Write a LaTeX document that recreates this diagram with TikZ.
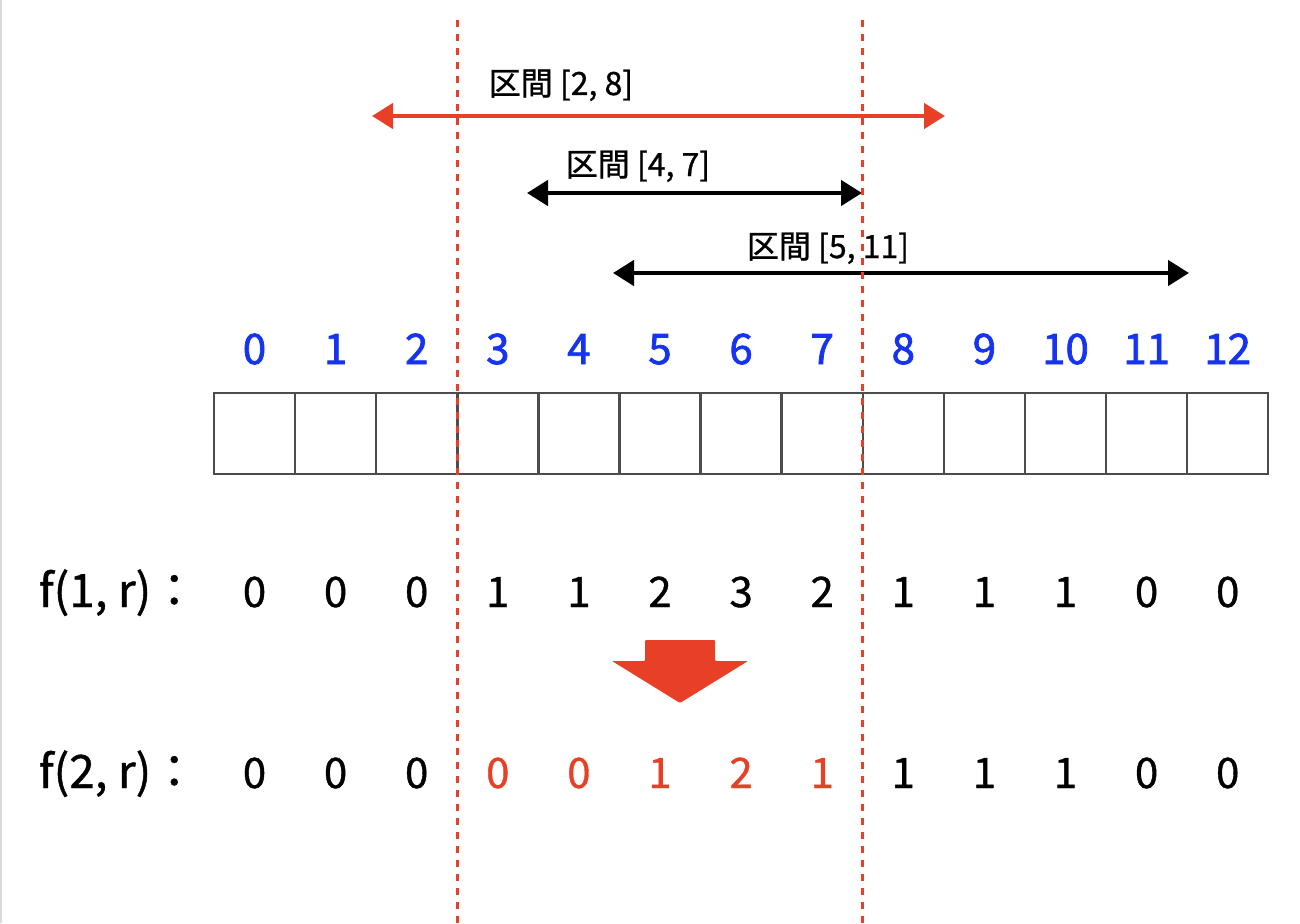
\documentclass[tikz,border=0pt]{standalone}
\usepackage{fontspec}
\setmainfont{Noto Sans CJK JP}[FakeBold=0.9]
\newfontfamily\idxfont{Noto Sans CJK JP}[FakeBold=1.8]
\usetikzlibrary{arrows.meta}
\definecolor{cutred}{RGB}{232,64,38}
\definecolor{idxblue}{RGB}{22,52,240}

\begin{document}
\begin{tikzpicture}[x=1pt,y=-1pt,
  cell/.style={draw=black!70,line width=2.4pt,minimum size=81pt,inner sep=0pt},
  idx/.style={text=idxblue,anchor=base,font=\idxfont\fontsize{42}{46}\selectfont},
  val/.style={anchor=base,font=\fontsize{42}{46}\selectfont},
  rowtag/.style={anchor=base,font=\fontsize{46}{50}\selectfont},
  tag/.style={anchor=base,font=\fontsize{32}{36}\selectfont},
  ivarrow/.style={line width=4.6pt,{Triangle[length=21pt,width=25pt]}-{Triangle[length=21pt,width=25pt]}},
  cutline/.style={cutred,line width=3pt,dash pattern=on 7pt off 7pt}]
  \useasboundingbox (0,0) rectangle (1300,923);
  \draw[black!15,line width=1.5pt] (1,0) -- (1,923);
  % array cells and their indices
  \foreach \i in {0,...,12} {
    \node[cell] (c\i) at ({254.5+81.1*\i},433.5) {};
    \node[idx] (i\i) at ({254.5+81.1*\i},364) {\i};
  }
  % intervals
  \coordinate (p28l) at (372,116);
  \coordinate (p28r) at (945,116);
  \coordinate (p47l) at (527,193);
  \coordinate (p47r) at (862,193);
  \coordinate (p511l) at (613,273);
  \coordinate (p511r) at (1189,273);
  \draw[ivarrow,cutred] (p28l) -- (p28r);
  \draw[ivarrow] (p47l) -- (p47r);
  \draw[ivarrow] (p511l) -- (p511r);
  \node[tag] (t28) at (561,95) {区間 [2, 8]};
  \node[tag] (t47) at (638,176) {区間 [4, 7]};
  \node[tag] (t511) at (828,258) {区間 [5, 11]};
  % f values
  \node[rowtag] (fa) at (118,607) {f(1, r)：};
  \node[rowtag] (fb) at (118,788) {f(2, r)：};
  \foreach \v [count=\i from 0] in {0,0,0,1,1,2,3,2,1,1,1,0,0}
    \node[val] (a\i) at ({254.5+81.1*\i},607) {\v};
  \foreach \v/\c [count=\i from 0] in {0/black,0/black,0/black,0/cutred,0/cutred,1/cutred,2/cutred,1/cutred,1/black,1/black,1/black,0/black,0/black}
    \node[val,text=\c] (b\i) at ({254.5+81.1*\i},788) {\v};
  \fill[cutred,rounded corners=1pt] (645,640) -- (715,640) -- (715,661) -- (748,661)
    -- (680,703) -- (612,661) -- (645,661) -- cycle;
  % cut lines
  \coordinate (cutLt) at (457,20);
  \coordinate (cutLb) at (457,923);
  \coordinate (cutRt) at (862,20);
  \coordinate (cutRb) at (862,923);
  \draw[cutline] (cutLt) -- (cutLb);
  \draw[cutline] (cutRt) -- (cutRb);
\end{tikzpicture}
\end{document}
